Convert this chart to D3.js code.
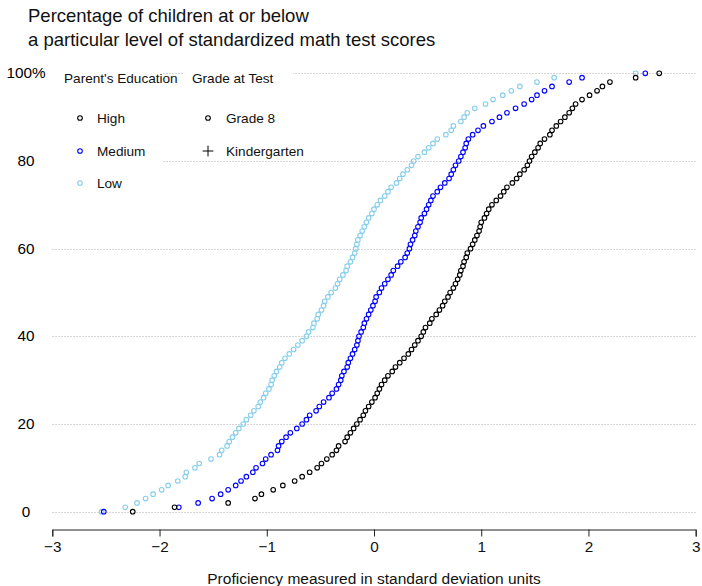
<!DOCTYPE html>
<html lang="en">
<head>
    <meta charset="UTF-8">
    <title>Percentage of children at or below a level of math test scores</title>
    <script src="https://d3js.org/d3.v7.min.js"></script>
    <style>
        body, html {
            margin: 0;
            padding: 0;
            overflow: hidden;
            background: #fff;
        }
        svg {
            display: block;
            font-family: "Liberation Sans", Arial, sans-serif;
        }
        .grid line {
            stroke: #c8c8c8;
            stroke-width: 1px;
            stroke-dasharray: 1.5 1.5;
        }
        .pt {
            fill: none;
            stroke-width: 1.1px;
        }
    </style>
</head>
<body>
    <svg width="702" height="586" id="chart"></svg>

    <script>
        // percentiles 0..100 shared by all series
        const percentiles = d3.range(0, 101);

        // x value (SD units) at each percentile
        const high = [
            -2.25, -1.86, -1.36, -1.11, -1.05, -0.94, -0.85, -0.74, -0.67, -0.60,
            -0.53, -0.49, -0.44, -0.39, -0.35, -0.33, -0.27, -0.25, -0.22, -0.19,
            -0.16, -0.13, -0.10, -0.08, -0.05, -0.02, 0.01, 0.03, 0.05, 0.07,
            0.10, 0.13, 0.17, 0.20, 0.24, 0.28, 0.32, 0.35, 0.38, 0.41,
            0.44, 0.46, 0.48, 0.52, 0.54, 0.58, 0.61, 0.64, 0.66, 0.69,
            0.71, 0.74, 0.76, 0.78, 0.80, 0.81, 0.83, 0.84, 0.86, 0.87,
            0.90, 0.92, 0.94, 0.96, 0.98, 0.99, 1.00, 1.03, 1.05, 1.07,
            1.10, 1.14, 1.18, 1.21, 1.24, 1.29, 1.33, 1.36, 1.40, 1.43,
            1.45, 1.47, 1.50, 1.53, 1.55, 1.59, 1.64, 1.66, 1.70, 1.74,
            1.78, 1.82, 1.85, 1.88, 1.94, 2.01, 2.08, 2.13, 2.20, 2.44,
            2.66
        ];
        const medium = [
            -2.52, -1.82, -1.64, -1.51, -1.43, -1.36, -1.29, -1.24, -1.19, -1.13,
            -1.10, -1.04, -1.01, -0.96, -0.90, -0.89, -0.86, -0.82, -0.78, -0.72,
            -0.67, -0.63, -0.60, -0.54, -0.51, -0.47, -0.42, -0.39, -0.35, -0.33,
            -0.31, -0.30, -0.28, -0.25, -0.24, -0.22, -0.20, -0.18, -0.16, -0.15,
            -0.14, -0.12, -0.10, -0.09, -0.07, -0.05, -0.03, -0.01, 0.01, 0.02,
            0.05, 0.07, 0.10, 0.13, 0.16, 0.18, 0.22, 0.25, 0.29, 0.31,
            0.33, 0.34, 0.36, 0.38, 0.39, 0.41, 0.43, 0.44, 0.47, 0.49,
            0.51, 0.53, 0.55, 0.59, 0.62, 0.66, 0.70, 0.72, 0.74, 0.76,
            0.79, 0.81, 0.83, 0.85, 0.86, 0.88, 0.92, 0.97, 1.02, 1.10,
            1.17, 1.24, 1.32, 1.40, 1.47, 1.52, 1.59, 1.66, 1.82, 1.94,
            2.53
        ];
        const low = [
            -2.54, -2.32, -2.21, -2.13, -2.06, -1.98, -1.92, -1.83, -1.76, -1.75,
            -1.67, -1.63, -1.52, -1.44, -1.42, -1.37, -1.35, -1.32, -1.29, -1.26,
            -1.22, -1.19, -1.15, -1.12, -1.08, -1.06, -1.03, -1.01, -0.98, -0.96,
            -0.95, -0.93, -0.91, -0.88, -0.86, -0.83, -0.79, -0.75, -0.71, -0.67,
            -0.63, -0.61, -0.57, -0.56, -0.53, -0.52, -0.49, -0.47, -0.46, -0.43,
            -0.40, -0.36, -0.34, -0.32, -0.29, -0.26, -0.25, -0.22, -0.20, -0.18,
            -0.17, -0.16, -0.15, -0.13, -0.11, -0.09, -0.07, -0.05, -0.02, 0.00,
            0.03, 0.06, 0.10, 0.13, 0.16, 0.21, 0.24, 0.27, 0.31, 0.35,
            0.37, 0.41, 0.47, 0.51, 0.55, 0.59, 0.67, 0.72, 0.74, 0.81,
            0.84, 0.87, 0.94, 1.04, 1.11, 1.20, 1.28, 1.36, 1.52, 1.68,
            2.44
        ];

        const seriesNames = ["High", "Medium", "Low"];
        const seriesColors = ["#000000", "#0000ff", "#87ceeb"];
        const gradeNames = ["Grade 8", "Kindergarten"];

        const xTicks = [-3, -2, -1, 0, 1, 2, 3];
        const yTicks = [0, 20, 40, 60, 80, 100];

        const svg = d3.select("#chart");

        const x = d3.scaleLinear().domain([-3, 3]).range([52.3, 695.7]);
        const y = d3.scaleLinear().domain([0, 100]).range([511.7, 73.3]);

        // title
        const title = svg.append("g").attr("font-size", 18.5).attr("fill", "#111");
        title.append("text").attr("x", 28).attr("y", 22).text("Percentage of children at or below");
        title.append("text").attr("x", 28).attr("y", 46).text("a particular level of standardized math test scores");

        // dotted gridlines
        svg.append("g").attr("class", "grid")
            .selectAll("line")
            .data(yTicks)
            .join("line")
            .attr("x1", x(-3))
            .attr("x2", x(3))
            .attr("y1", d => Math.round(y(d)) + 0.5)
            .attr("y2", d => Math.round(y(d)) + 0.5);

        // y labels, centred left of the plot
        svg.append("g")
            .attr("font-size", 15.3)
            .attr("text-anchor", "middle")
            .selectAll("text")
            .data(yTicks)
            .join("text")
            .attr("x", 26)
            .attr("y", d => y(d) + 5)
            .text(d => d === 100 ? "100%" : d);

        // x axis
        const xAxis = svg.append("g")
            .attr("transform", "translate(0,529.5)")
            .call(d3.axisBottom(x).tickValues(xTicks).tickSize(7).tickPadding(5)
                .tickFormat(d => d < 0 ? "\u2212" + Math.abs(d) : d));
        xAxis.select(".domain").attr("stroke", "#222");
        xAxis.selectAll(".tick line").attr("stroke", "#222");
        xAxis.selectAll("text")
            .attr("font-size", 15.3)
            .attr("font-family", "Liberation Sans, Arial, sans-serif")
            .attr("fill", "#111");

        svg.append("text")
            .attr("x", x(0))
            .attr("y", 584)
            .attr("text-anchor", "middle")
            .attr("font-size", 15.5)
            .attr("fill", "#111")
            .text("Proficiency measured in standard deviation units");

        // points
        const allSeries = [low, medium, high];
        const order = [2, 1, 0];
        order.forEach(k => {
            const vals = [high, medium, low][k];
            svg.append("g")
                .selectAll("circle")
                .data(percentiles)
                .join("circle")
                .attr("class", "pt")
                .attr("cx", (d, i) => x(vals[i]))
                .attr("cy", d => y(d))
                .attr("r", 2.3)
                .attr("stroke", seriesColors[k]);
        });

        // legends with white boxes
        svg.append("rect").attr("x", 52).attr("y", 62).attr("width", 110).attr("height", 134).attr("fill", "#fff");
        svg.append("rect").attr("x", 183).attr("y", 62).attr("width", 110).attr("height", 96).attr("fill", "#fff");

        const leg = svg.append("g").attr("font-size", 13.6).attr("fill", "#111");
        leg.append("text").attr("x", 64).attr("y", 83).text("Parent's Education");
        leg.append("text").attr("x", 192).attr("y", 83).text("Grade at Test");

        const legRows = [118, 151, 183];
        seriesNames.forEach((name, i) => {
            leg.append("circle")
                .attr("class", "pt")
                .attr("cx", 80)
                .attr("cy", legRows[i])
                .attr("r", 2.3)
                .attr("stroke", seriesColors[i]);
            leg.append("text")
                .attr("x", 97)
                .attr("y", legRows[i] + 5)
                .text(name);
        });

        gradeNames.forEach((name, i) => {
            if (i === 0) {
                leg.append("circle")
                    .attr("class", "pt")
                    .attr("cx", 208)
                    .attr("cy", legRows[i])
                    .attr("r", 2.3)
                    .attr("stroke", "#000");
            } else {
                leg.append("path")
                    .attr("d", d3.symbol(d3.symbolCross2 || d3.symbolPlus, 40)())
                    .attr("transform", `translate(208,${legRows[i]})`)
                    .attr("fill", "none")
                    .attr("stroke", "#000")
                    .attr("stroke-width", 1);
            }
            leg.append("text")
                .attr("x", 226)
                .attr("y", legRows[i] + 5)
                .text(name);
        });
    </script>
</body>
</html>
